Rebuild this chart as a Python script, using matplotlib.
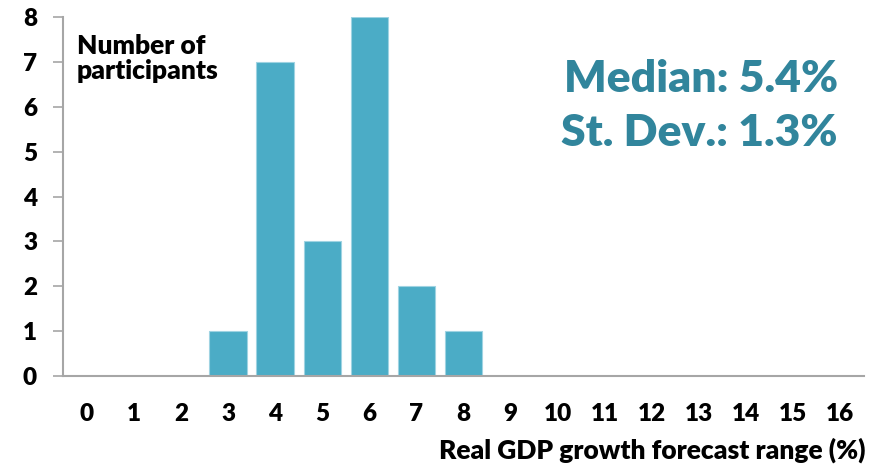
import matplotlib
matplotlib.use('Agg')
import matplotlib.pyplot as plt

# forecast ranges (%) and how many participants fall in each
ranges = list(range(0, 17))
counts = [0, 0, 0, 1, 7, 3, 8, 2, 1, 0, 0, 0, 0, 0, 0, 0, 0]

median_txt = 'Median: 5.4%'
stdev_txt = 'St. Dev.: 1.3%'

bar_col = '#4bacc6'
txt_col = '#31859c'
axis_col = '#a6a6a6'

plt.rcParams['font.family'] = ['Lato', 'DejaVu Sans']
W = 'heavy'

fig = plt.figure(figsize=(8.83, 4.69), dpi=100)
ax = fig.add_axes([0.0719, 0.198, 0.9061, 0.7658])

ax.bar(ranges, counts, width=0.8, color=bar_col, edgecolor='#9fd3e2', linewidth=0.8)

ax.set_xlim(-0.5, 16.5)
ax.set_ylim(0, 8)
ax.set_xticks(ranges)
ax.set_yticks(range(0, 9))
ax.tick_params(axis='x', length=0, pad=19, labelsize=17.5)
ax.tick_params(axis='y', length=7, width=1.2, color=axis_col, pad=12, labelsize=17.5)
for lab in ax.get_xticklabels() + ax.get_yticklabels():
    lab.set_fontweight(W)

for s in ['top', 'right']:
    ax.spines[s].set_visible(False)
ax.spines['left'].set_color(axis_col)
ax.spines['bottom'].set_color(axis_col)
ax.spines['left'].set_linewidth(1.5)
ax.spines['bottom'].set_linewidth(1.5)

ax.set_xlabel('Real GDP growth forecast range (%)', fontsize=19, fontweight=W)
ax.xaxis.set_label_coords(1.002, -0.172)
ax.xaxis.label.set_horizontalalignment('right')
ax.xaxis.label.set_verticalalignment('top')

ax.text(0.017, 0.953, 'Number of\nparticipants', transform=ax.transAxes,
        fontsize=19, fontweight=W, va='top', linespacing=1.08)

ax.text(0.968, 0.791, median_txt, transform=ax.transAxes, ha='right', va='baseline',
        fontsize=32, fontweight=W, color=txt_col)
ax.text(0.968, 0.641, stdev_txt, transform=ax.transAxes, ha='right', va='baseline',
        fontsize=32, fontweight=W, color=txt_col)

fig.savefig('out.png', dpi=100)
